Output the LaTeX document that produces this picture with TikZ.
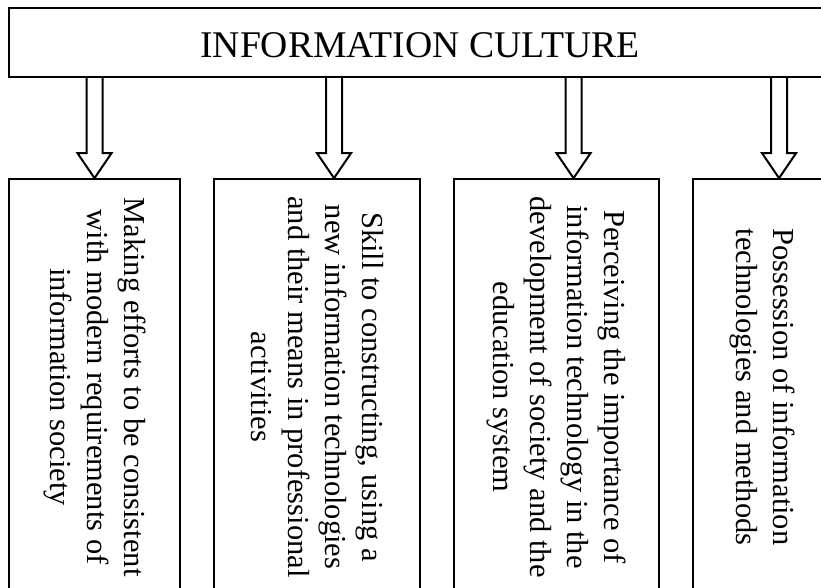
\documentclass[tikz,border=0pt]{standalone}
\usepackage{fontspec}
\setmainfont{Liberation Serif}
\usetikzlibrary{calc}

\begin{document}
\begin{tikzpicture}[x=1pt, y=-1pt, scale=0.75, transform shape, line width=1.7pt,
    topbox/.style={rectangle, draw, minimum width=822, minimum height=69, inner sep=0pt,
                   font=\fontsize{37.7}{45}\selectfont},
    colbox/.style={rectangle, draw, minimum height=416, inner sep=0pt},
    coltext/.style={rotate=-90, align=center, inner sep=0pt,
                    font=\fontsize{30.5}{37}\selectfont},
    hollow/.style={line width=1.5pt, line join=miter}]
\useasboundingbox (0,0) rectangle (821,587);
\clip (0,0) rectangle (821,587);
\node[topbox] (top) at (420,42.5) {};
\node (title) at (420,45.5) [font=\fontsize{37.7}{45}\selectfont, inner sep=0pt] {INFORMATION CULTURE};
\node[colbox, minimum width=171] (b1) at (94.5,387) {};
\node[colbox, minimum width=206] (b2) at (317,387) {};
\node[colbox, minimum width=205] (b3) at (556.5,387) {};
\node[colbox, minimum width=138] (b4) at (762,387) {};
\node[coltext] (t1) at (b1.center) {Making efforts to be consistent\\with modern requirements of\\information society};
\node[coltext] (t2) at (b2.center) {Skill to constructing, using a\\new information technologies\\and their means in professional\\activities};
\node[coltext] (t3) at (b3.center) {Perceiving the importance of\\information technology in the\\development of society and the\\education system};
\node[coltext] (t4) at (b4.center) {Possession of information\\technologies and methods};
% arrow tips on the boxes
\coordinate (a1) at (b1.north);
\coordinate (a2) at ($(b2.north)+(17,0)$);
\coordinate (a3) at ($(b3.north)+(17,0)$);
\coordinate (a4) at ($(b4.north)+(17,0)$);
\foreach \i in {1,...,4} {
    \draw[hollow] ($(top.south -| a\i)+(-8,0)$) -- ($(a\i)+(-8,-25)$) -- ++(-9,0) -- (a\i)
        -- ++(17,-25) -- ++(-9,0) -- ($(top.south -| a\i)+(8,0)$);
}
\end{tikzpicture}
\end{document}
